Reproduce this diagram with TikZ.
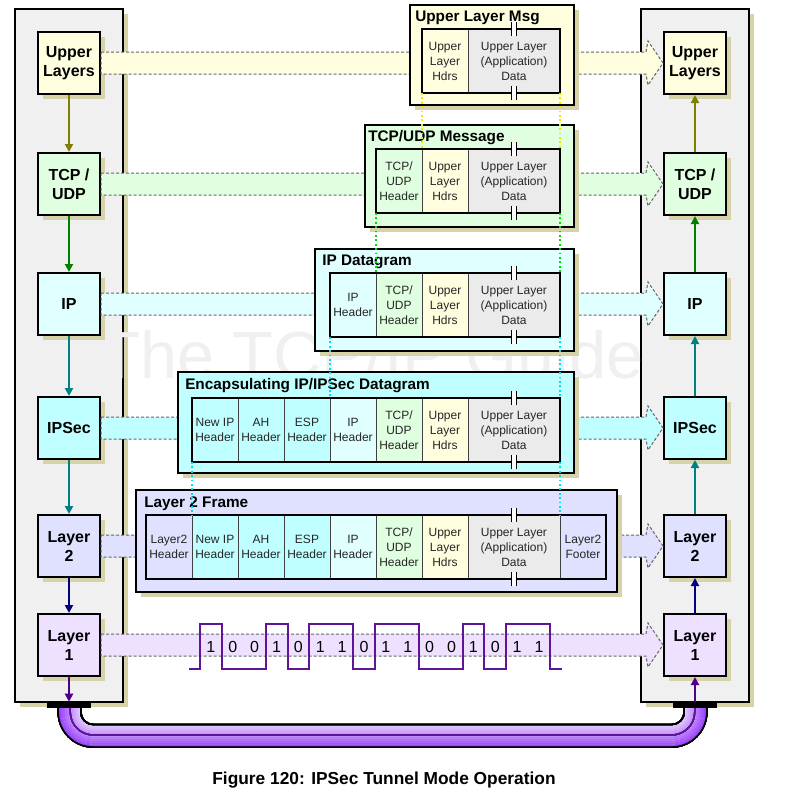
\documentclass[tikz,border=0pt]{standalone}
\usepackage{fontspec}
\setmainfont{Liberation Sans}
\usepackage{tikz}
\usetikzlibrary{arrows.meta,positioning,shadows}

\definecolor{ulc}{RGB}{255,255,224}
\definecolor{tcpc}{RGB}{224,255,224}
\definecolor{ipc}{RGB}{224,255,255}
\definecolor{secc}{RGB}{192,255,255}
\definecolor{l2c}{RGB}{224,224,255}
\definecolor{l1c}{RGB}{238,224,255}
\definecolor{datac}{RGB}{235,235,235}
\definecolor{panelc}{RGB}{240,240,240}
\definecolor{shdw}{RGB}{214,211,170}
\definecolor{olc}{RGB}{128,128,0}
\definecolor{grc}{RGB}{0,128,0}
\definecolor{tlc}{RGB}{0,128,128}
\definecolor{nvc}{RGB}{0,0,128}
\definecolor{inc}{RGB}{80,0,140}
\definecolor{sigc}{RGB}{96,20,150}
\definecolor{yelc}{RGB}{240,232,0}
\definecolor{grnc}{RGB}{0,220,0}
\definecolor{cyac}{RGB}{0,220,240}
\definecolor{tubelt}{RGB}{228,208,255}
\definecolor{tubedk}{RGB}{150,60,250}

% one ring of the cable between the two ports, #2 = radius in px
\newcommand{\tubepath}[2]{%
  \draw[#1] ({93.25-#2},706) -- ({93.25-#2},712)
    .. controls ({93.25-#2},{712+0.5523*#2}) and ({93.25-0.5523*#2},{712+#2}) .. (93.25,{712+#2})
    -- (671.75,{712+#2})
    .. controls ({671.75+0.5523*#2},{712+#2}) and ({671.75+#2},{712+0.5523*#2}) .. ({671.75+#2},712)
    -- ({671.75+#2},706);}

\begin{document}
\begin{tikzpicture}[
    x=0.75pt, y=-0.75pt,
    shd/.style={drop shadow={shadow xshift=3.75pt, shadow yshift=-3.75pt, fill=shdw, opacity=1}},
    lbox/.style={draw, line width=1.5pt, minimum width=46.5pt, minimum height=46.5pt, inner sep=0pt, align=center, font=\bfseries\fontsize{12}{14.25}\selectfont, shd},
    panel/.style={draw, line width=1.5pt, fill=panelc, shd},
    msg/.style={draw, line width=1.5pt, shd},
    ttl/.style={anchor=west, inner sep=0pt, font=\bfseries\fontsize{11.5}{13}\selectfont},
    cell/.style={draw=black!75, line width=0.75pt, minimum width=34.5pt, minimum height=48pt, inner sep=0pt, outer sep=0pt, align=center, text=black!85, font=\fontsize{9}{11.25}\selectfont},
    dcell/.style={cell, minimum width=69pt, fill=datac},
    inbox/.style={line width=1.5pt},
    arr/.style={-{Triangle[width=6pt,length=6pt]}, line width=1.5pt},
    band/.style={draw=black!60, dash pattern=on 2.25pt off 1.5pt, line width=0.75pt},
    mapline/.style={line width=1.3pt, dash pattern=on 1.3pt off 2pt},
    sig/.style={line width=1.5pt, draw=sigc},
    bit/.style={inner sep=0pt, font=\fontsize{12}{14}\selectfont},
    port/.style={fill=black, minimum width=33pt, minimum height=4.5pt, inner sep=0pt}
]
\useasboundingbox (0,0) rectangle (787,794);

% stacks
\draw[panel] (15,9) rectangle (123,702);
\draw[panel] (641,9) rectangle (749,702);
\node[anchor=base west, inner sep=0pt, text=black!6, font=\fontsize{50}{50}\selectfont] (wm) at (99,378) {The TCP/IP Guide};

\node[lbox, fill=ulc] (lul) at (69,63) {Upper\\Layers};
\node[lbox, fill=tcpc, below=42.75pt of lul] (ltcp) {TCP /\\UDP};
\node[lbox, fill=ipc, below=42pt of ltcp] (lip) {IP};
\node[lbox, fill=secc, below=45pt of lip] (lsec) {IPSec};
\node[lbox, fill=l2c, below=40.5pt of lsec] (ll2) {Layer\\2};
\node[lbox, fill=l1c, below=26.25pt of ll2] (ll1) {Layer\\1};

\node[lbox, fill=ulc, right=421.5pt of lul] (rul) {Upper\\Layers};
\node[lbox, fill=tcpc, right=421.5pt of ltcp] (rtcp) {TCP /\\UDP};
\node[lbox, fill=ipc, right=421.5pt of lip] (rip) {IP};
\node[lbox, fill=secc, right=421.5pt of lsec] (rsec) {IPSec};
\node[lbox, fill=l2c, right=421.5pt of ll2] (rl2) {Layer\\2};
\node[lbox, fill=l1c, right=421.5pt of ll1] (rl1) {Layer\\1};

\draw[arr, color=olc] (lul) -- (ltcp);
\draw[arr, color=grc] (ltcp) -- (lip);
\draw[arr, color=tlc] (lip) -- (lsec);
\draw[arr, color=tlc] (lsec) -- (ll2);
\draw[arr, color=nvc] (ll2) -- (ll1);
\draw[arr, color=olc] (rtcp) -- (rul);
\draw[arr, color=grc] (rip) -- (rtcp);
\draw[arr, color=tlc] (rsec) -- (rip);
\draw[arr, color=tlc] (rl2) -- (rsec);
\draw[arr, color=nvc] (rl1) -- (rl2);

% peer to peer
\foreach \a/\b/\c in {lul/rul/ulc, ltcp/rtcp/tcpc, lip/rip/ipc, lsec/rsec/secc, ll2/rl2/l2c, ll1/rl1/l1c}
  \draw[band, fill=\c] ([yshift=8.25pt]\a.east) -- ([xshift=-12.75pt,yshift=8.25pt]\b.west)
    -- ([xshift=-11.25pt,yshift=16.5pt]\b.west) -- (\b.west) -- ([xshift=-11.25pt,yshift=-16.5pt]\b.west)
    -- ([xshift=-12.75pt,yshift=-8.25pt]\b.west) -- ([yshift=-8.25pt]\a.east) -- cycle;

% messages
\draw[msg, fill=ulc] (410,5) rectangle (574,105);
\node[ttl] (tul) at (415,18) {Upper Layer Msg};
\node[cell, fill=ulc, anchor=north west] (ulh) at (422,29) {Upper\\Layer\\Hdrs};
\node[dcell, right=0pt of ulh] (uld) {Upper Layer\\(Application)\\Data};
\draw[inbox] (ulh.north west) rectangle (uld.south east);

\draw[msg, fill=tcpc] (365,125) rectangle (574,227);
\node[ttl] (ttcp) at (368,138) {TCP/UDP Message};
\node[cell, fill=tcpc, anchor=north west] (tcph) at (376,149) {TCP/\\UDP\\Header};
\node[cell, fill=ulc, right=0pt of tcph] (tcpu) {Upper\\Layer\\Hdrs};
\node[dcell, right=0pt of tcpu] (tcpd) {Upper Layer\\(Application)\\Data};
\draw[inbox] (tcph.north west) rectangle (tcpd.south east);

\draw[msg, fill=ipc] (315,249) rectangle (574,351);
\node[ttl] (tip) at (322,262) {IP Datagram};
\node[cell, fill=ipc, anchor=north west] (iph) at (330,273) {IP\\Header};
\node[cell, fill=tcpc, right=0pt of iph] (ipt) {TCP/\\UDP\\Header};
\node[cell, fill=ulc, right=0pt of ipt] (ipu) {Upper\\Layer\\Hdrs};
\node[dcell, right=0pt of ipu] (ipd) {Upper Layer\\(Application)\\Data};
\draw[inbox] (iph.north west) rectangle (ipd.south east);

\draw[msg, fill=secc] (178,372) rectangle (574,473);
\node[ttl] (tenc) at (185,386) {Encapsulating IP/IPSec Datagram};
\node[cell, fill=secc, anchor=north west] (enn) at (192,398) {New IP\\Header};
\node[cell, fill=secc, right=0pt of enn] (ena) {AH\\Header};
\node[cell, fill=secc, right=0pt of ena] (ene) {ESP\\Header};
\node[cell, fill=ipc, right=0pt of ene] (eni) {IP\\Header};
\node[cell, fill=tcpc, right=0pt of eni] (ent) {TCP/\\UDP\\Header};
\node[cell, fill=ulc, right=0pt of ent] (enu) {Upper\\Layer\\Hdrs};
\node[dcell, right=0pt of enu] (encd) {Upper Layer\\(Application)\\Data};
\draw[inbox] (enn.north west) rectangle (encd.south east);

\draw[msg, fill=l2c] (136,490) rectangle (617,592);
\node[ttl] (tfr) at (144,504) {Layer 2 Frame};
\node[cell, fill=l2c, anchor=north west] (frh) at (146,515) {Layer2\\Header};
\node[cell, fill=secc, right=0pt of frh] (frn) {New IP\\Header};
\node[cell, fill=secc, right=0pt of frn] (fra) {AH\\Header};
\node[cell, fill=secc, right=0pt of fra] (fre) {ESP\\Header};
\node[cell, fill=ipc, right=0pt of fre] (fri) {IP\\Header};
\node[cell, fill=tcpc, right=0pt of fri] (frt) {TCP/\\UDP\\Header};
\node[cell, fill=ulc, right=0pt of frt] (fru) {Upper\\Layer\\Hdrs};
\node[dcell, right=0pt of fru] (frd) {Upper Layer\\(Application)\\Data};
\node[cell, fill=l2c, right=0pt of frd] (frf) {Layer2\\Footer};
\draw[inbox] (frh.north west) rectangle (frf.south east);

% data breaks
\foreach \m in {uld,tcpd,ipd,encd,frd}
  \foreach \s in {north,south} {
    \fill[white] ([xshift=-1.9pt,yshift=-5.25pt]\m.\s) rectangle ([xshift=1.9pt,yshift=5.25pt]\m.\s);
    \draw[line width=1.1pt] ([xshift=-1.9pt,yshift=-5.25pt]\m.\s) -- ([xshift=-1.9pt,yshift=5.25pt]\m.\s)
      ([xshift=1.9pt,yshift=-5.25pt]\m.\s) -- ([xshift=1.9pt,yshift=5.25pt]\m.\s);
  }

% what goes where
\foreach \a/\b/\c in {ulh.south west/tcpu.north west/yelc, uld.south east/tcpd.north east/yelc,
    tcph.south west/ipt.north west/grnc, tcpd.south east/ipd.north east/grnc,
    iph.south west/eni.north west/cyac, ipd.south east/encd.north east/cyac,
    enn.south west/frn.north west/cyac, encd.south east/frd.north east/cyac}
  \draw[mapline, draw=\c] (\a) -- (\b);

% bits on the wire
\draw[sig] (189,669) -| (200,624) -| (221.9,669) -| (265.6,624) -| (287.5,669) -| (309.4,624)
  -| (353.1,669) -| (375,624) -| (418.75,669) -| (462.5,624) -| (484.4,669) -| (506.25,624)
  -| (550,669) -- (562,669);
\foreach \b [count=\i from 0] in {1,0,0,1,0,1,1,0,1,1,0,0,1,0,1,1}
  \node[bit] (bit\i) at ({210.9+\i*21.875},647) {\b};

% cable
\foreach \r [evaluate=\r as \p using {100*(\r-12.5)/22.5}] in {13.5,15.5,...,33.5}
  \tubepath{line width=1.6pt, draw=tubedk!\p!tubelt}{\r}
\tubepath{line width=1.1pt}{35}
\tubepath{line width=1.1pt}{12.5}
\tubepath{line width=1pt, draw=sigc}{23}
\node[port] (lport) at (69,705) {};
\node[port] (rport) at (695,705) {};
\draw[arr, color=inc] (ll1) -- (lport);
\draw[arr, color=inc] (rport) -- (rl1);

\node[font=\bfseries\fontsize{13}{15}\selectfont] (cap) at (384,780) {Figure 120: IPSec Tunnel Mode Operation};
\end{tikzpicture}
\end{document}
